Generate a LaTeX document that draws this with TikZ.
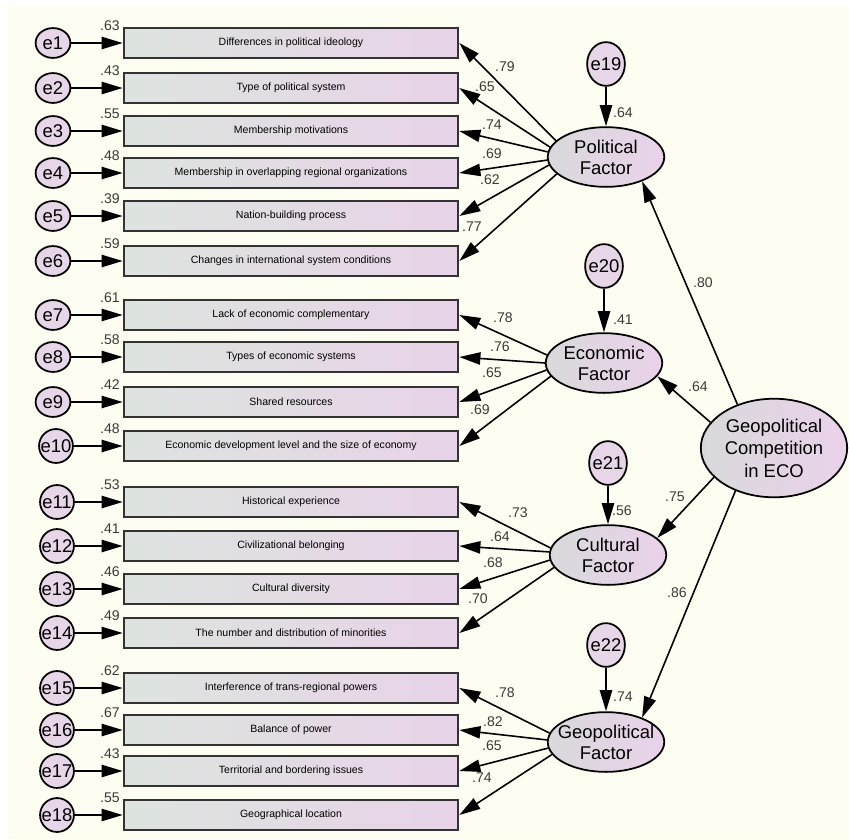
\documentclass[tikz,border=0pt]{standalone}
\usepackage{fontspec}
\setmainfont{Liberation Sans}
\usetikzlibrary{arrows.meta,shapes.geometric}

\definecolor{bgcream}{HTML}{FDFDF1}
\definecolor{itemleft}{HTML}{DDE4DF}
\definecolor{itemright}{HTML}{E8D3E8}
\definecolor{latleft}{HTML}{D9D9DB}
\definecolor{latright}{HTML}{EAD2EA}
\definecolor{errfill}{HTML}{E7D6E7}
\definecolor{coefgray}{HTML}{3A3A3A}

\tikzset{
  item/.style={draw=black!80, line width=1.1pt, left color=itemleft, right color=itemright,
    minimum width=190.5pt, minimum height=17pt, inner sep=0pt, font=\fontsize{6}{7}\selectfont},
  latent/.style={ellipse, draw, line width=1pt, left color=latleft, right color=latright,
    minimum width=66.3pt, minimum height=34pt, inner xsep=-6pt, inner ysep=0pt, align=center,
    font=\fontsize{10.5}{12}\selectfont},
  errsmall/.style={ellipse, draw, line width=1pt, fill=errfill, minimum width=19.8pt,
    minimum height=17pt, inner sep=0pt, font=\fontsize{10.5}{12}\selectfont},
  errround/.style={ellipse, draw, line width=1pt, fill=errfill, minimum width=19.3pt,
    minimum height=19.3pt, inner xsep=-4pt, inner ysep=0pt, font=\fontsize{10.5}{12}\selectfont},
  errtall/.style={ellipse, draw, line width=1pt, fill=errfill, minimum width=21.5pt,
    minimum height=24.9pt, inner xsep=-3pt, inner ysep=0pt, font=\fontsize{10.5}{12}\selectfont},
  load/.style={-{Triangle[length=12pt,width=7pt]}, line width=0.9pt},
  coef/.style={inner sep=0pt, text=coefgray, font=\fontsize{8}{9}\selectfont}
}

\begin{document}
\begin{tikzpicture}[x=0.02cm,y=0.02cm]
% page and background
\fill[white] (0,0) rectangle (849,-839);
\fill[bgcream] (7,-6) rectangle (849,-839);
\useasboundingbox (0,0) rectangle (849,-839);

% observed items
\node[item] (b1) at (291,-43) {Differences in political ideology};
\node[item] (b2) at (291,-88) {Type of political system};
\node[item] (b3) at (291,-131) {Membership motivations};
\node[item] (b4) at (291,-173) {Membership in overlapping regional organizations};
\node[item] (b5) at (291,-216) {Nation-building process};
\node[item] (b6) at (291,-261) {Changes in international system conditions};
\node[item] (b7) at (291,-315) {Lack of economic complementary};
\node[item] (b8) at (291,-357) {Types of economic systems};
\node[item] (b9) at (291,-402) {Shared resources};
\node[item] (b10) at (291,-446) {Economic development level and the size of economy};
\node[item] (b11) at (291,-502) {Historical experience};
\node[item] (b12) at (291,-546) {Civilizational belonging};
\node[item] (b13) at (291,-589) {Cultural diversity};
\node[item] (b14) at (291,-633) {The number and distribution of minorities};
\node[item] (b15) at (291,-688) {Interference of trans-regional powers};
\node[item] (b16) at (291,-730) {Balance of power};
\node[item] (b17) at (291,-771) {Territorial and bordering issues};
\node[item] (b18) at (291,-815) {Geographical location};

% error terms of the items
\node[errsmall] (e1) at (53,-43) {e1};
\node[errsmall] (e2) at (53,-88) {e2};
\node[errsmall] (e3) at (53,-131) {e3};
\node[errsmall] (e4) at (53,-173) {e4};
\node[errsmall] (e5) at (53,-216) {e5};
\node[errsmall] (e6) at (53,-261) {e6};
\node[errsmall] (e7) at (53,-315) {e7};
\node[errsmall] (e8) at (53,-357) {e8};
\node[errsmall] (e9) at (53,-402) {e9};
\node[errround] (e10) at (56,-446) {e10};
\node[errround] (e11) at (57,-502) {e11};
\node[errround] (e12) at (57,-546) {e12};
\node[errround] (e13) at (57,-589) {e13};
\node[errround] (e14) at (57,-633) {e14};
\node[errround] (e15) at (57,-688) {e15};
\node[errround] (e16) at (57,-730) {e16};
\node[errround] (e17) at (57,-771) {e17};
\node[errround] (e18) at (57,-815) {e18};

% latent factors
\node[latent] (pol) at (606,-157) {Political\\Factor};
\node[latent] (eco) at (604,-363) {Economic\\Factor};
\node[latent] (cul) at (608,-555) {Cultural\\Factor};
\node[latent] (geo) at (606,-742) {Geopolitical\\Factor};
\node[latent, minimum width=83.3pt, minimum height=56.1pt, inner xsep=0pt,
  font=\fontsize{10.5}{12.8}\selectfont] (gce) at (774,-448) {Geopolitical\\Competition\\in ECO};
\node[errtall] (e19) at (606,-64) {e19};
\node[errtall] (e20) at (604,-266) {e20};
\node[errtall] (e21) at (608,-463) {e21};
\node[errtall] (e22) at (606,-645) {e22};

% error arrows
\draw[load] (e1) -- (b1);
\draw[load] (e2) -- (b2);
\draw[load] (e3) -- (b3);
\draw[load] (e4) -- (b4);
\draw[load] (e5) -- (b5);
\draw[load] (e6) -- (b6);
\draw[load] (e7) -- (b7);
\draw[load] (e8) -- (b8);
\draw[load] (e9) -- (b9);
\draw[load] (e10) -- (b10);
\draw[load] (e11) -- (b11);
\draw[load] (e12) -- (b12);
\draw[load] (e13) -- (b13);
\draw[load] (e14) -- (b14);
\draw[load] (e15) -- (b15);
\draw[load] (e16) -- (b16);
\draw[load] (e17) -- (b17);
\draw[load] (e18) -- (b18);
\draw[load] (e19) -- (pol);
\draw[load] (e20) -- (eco);
\draw[load] (e21) -- (cul);
\draw[load] (e22) -- (geo);

% loadings
\draw[load] (pol.162) -- (b1.east);
\draw[load] (pol.170) -- (b2.east);
\draw[load] (pol.175) -- (b3.east);
\draw[load] (pol.183) -- (b4.east);
\draw[load] (pol.188) -- (b5.east);
\draw[load] (pol.199) -- (b6.east);
\draw[load] (eco.172) -- (b7.east);
\draw[load] (eco.180) -- (b8.east);
\draw[load] (eco.187) -- (b9.east);
\draw[load] (eco.194) -- (b10.east);
\draw[load] (cul.173) -- (b11.east);
\draw[load] (cul.177) -- (b12.east);
\draw[load] (cul.185) -- (b13.east);
\draw[load] (cul.193) -- (b14.east);
\draw[load] (geo.171) -- (b15.east);
\draw[load] (geo.178) -- (b16.east);
\draw[load] (geo.186) -- (b17.east);
\draw[load] (geo.193) -- (b18.east);

% second order paths
\draw[load] (gce.130) -- (pol.-34);
\draw[load] (gce.158) -- (eco.-14);
\draw[load] (gce.206) -- (cul.19);
\draw[load] (gce.228) -- (geo.34);

% squared multiple correlations
\node[coef] (r1) at (110,-26) {.63};
\node[coef] (r2) at (110,-71) {.43};
\node[coef] (r3) at (110,-114) {.55};
\node[coef] (r4) at (110,-156) {.48};
\node[coef] (r5) at (110,-199) {.39};
\node[coef] (r6) at (110,-244) {.59};
\node[coef] (r7) at (110,-298) {.61};
\node[coef] (r8) at (110,-340) {.58};
\node[coef] (r9) at (110,-385) {.42};
\node[coef] (r10) at (110,-429) {.48};
\node[coef] (r11) at (110,-485) {.53};
\node[coef] (r12) at (110,-529) {.41};
\node[coef] (r13) at (110,-572) {.46};
\node[coef] (r14) at (110,-616) {.49};
\node[coef] (r15) at (110,-671) {.62};
\node[coef] (r16) at (110,-713) {.67};
\node[coef] (r17) at (110,-754) {.43};
\node[coef] (r18) at (110,-798) {.55};
\node[coef] (r19) at (623,-113) {.64};
\node[coef] (r20) at (623,-320) {.41};
\node[coef] (r21) at (622,-511) {.56};
\node[coef] (r22) at (623,-697) {.74};

% loading values
\node[coef] (l1) at (505,-67) {.79};
\node[coef] (l2) at (485,-87) {.65};
\node[coef] (l3) at (492,-125) {.74};
\node[coef] (l4) at (492,-154) {.69};
\node[coef] (l5) at (490,-180) {.62};
\node[coef] (l6) at (472,-227) {.77};
\node[coef] (l7) at (503,-318) {.78};
\node[coef] (l8) at (500,-347) {.76};
\node[coef] (l9) at (492,-373) {.65};
\node[coef] (l10) at (480,-410) {.69};
\node[coef] (l11) at (518,-513) {.73};
\node[coef] (l12) at (500,-537) {.64};
\node[coef] (l13) at (493,-563) {.68};
\node[coef] (l14) at (478,-599) {.70};
\node[coef] (l15) at (505,-693) {.78};
\node[coef] (l16) at (493,-722) {.82};
\node[coef] (l17) at (492,-746) {.65};
\node[coef] (l18) at (482,-778) {.74};
\node[coef] (g1) at (703,-283) {.80};
\node[coef] (g2) at (698,-387) {.64};
\node[coef] (g3) at (675,-497) {.75};
\node[coef] (g4) at (677,-593) {.86};
\end{tikzpicture}
\end{document}
